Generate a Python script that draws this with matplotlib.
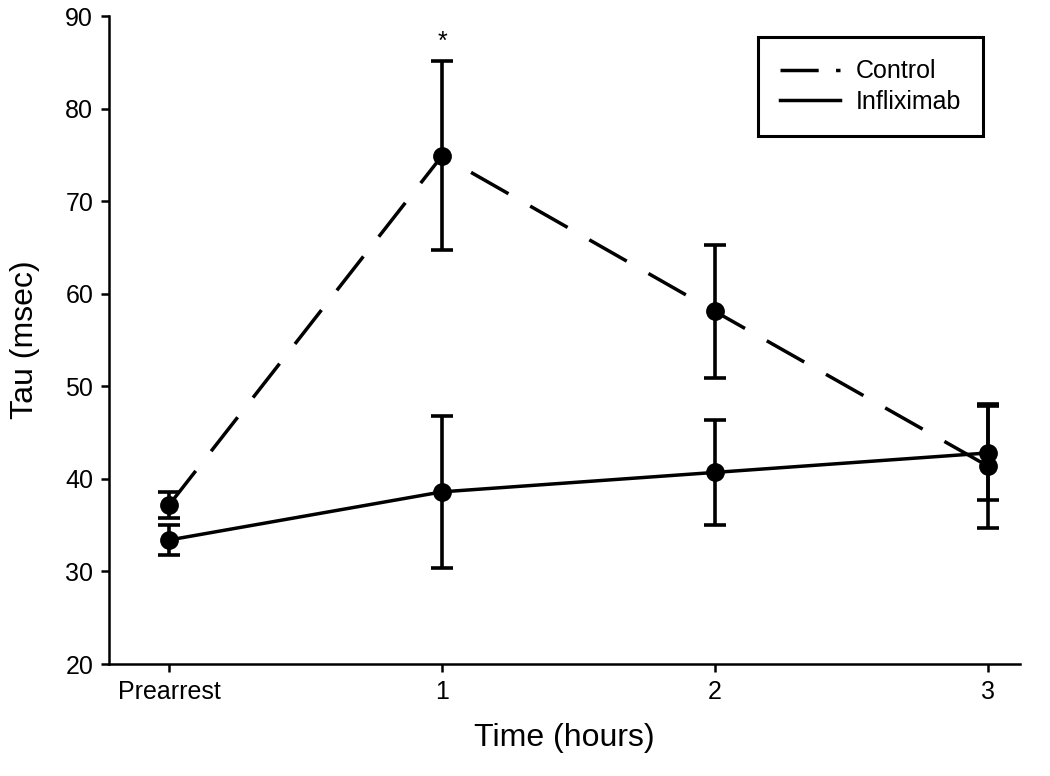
import numpy as np
import matplotlib.pyplot as plt

plt.rcParams['font.family'] = ['Liberation Sans', 'DejaVu Sans']

# data
time_labels = ['Prearrest', '1', '2', '3']
control_mean = [37.2, 74.9, 58.1, 41.4]
control_err = [1.4, 10.2, 7.2, 6.7]
inflix_mean = [33.4, 38.6, 40.7, 42.8]
inflix_err = [1.6, 8.2, 5.7, 5.1]

x = np.arange(len(time_labels))

fig = plt.figure(figsize=(10.5, 7.76), dpi=100)
ax = fig.add_axes([0.104, 0.1443, 0.867, 0.835])

dash = (0, (12.4, 7.2))
ax.errorbar(x, control_mean, yerr=control_err, color='black', lw=2.5,
            linestyle=dash, marker='o', markersize=12.5,
            capsize=8, capthick=2.6, elinewidth=2.6, label='Control')
ax.errorbar(x, inflix_mean, yerr=inflix_err, color='black', lw=2.5,
            linestyle='-', marker='o', markersize=12.5,
            capsize=8, capthick=2.6, elinewidth=2.6, label='Infliximab')

# significance marker
ax.text(1, 87.2, '*', ha='center', va='center', fontsize=18)

ax.set_xlim(-0.22, 3.117)
ax.set_ylim(20, 90)
ax.set_xticks(x)
ax.set_xticklabels(time_labels)
ax.set_yticks(np.arange(20, 91, 10))
ax.tick_params(labelsize=18, width=1.8, length=5.5, direction='out', pad=6)
ax.spines['top'].set_visible(False)
ax.spines['right'].set_visible(False)
ax.spines['left'].set_linewidth(1.8)
ax.spines['bottom'].set_linewidth(1.8)

ax.set_xlabel('Time (hours)', fontsize=23, labelpad=14)
ax.set_ylabel('Tau (msec)', fontsize=23, labelpad=18)

handles = [plt.Line2D([], [], color='black', lw=2.5, linestyle=(0, (11, 5))),
           plt.Line2D([], [], color='black', lw=2.5, linestyle='-')]
leg = ax.legend(handles, ['Control', 'Infliximab'], loc='upper right',
                bbox_to_anchor=(0.960, 0.968), fontsize=18, fancybox=False,
                edgecolor='black', framealpha=1, handlelength=2.4,
                handletextpad=0.6, borderpad=0.9, borderaxespad=0,
                labelspacing=0.25)
leg.get_frame().set_linewidth(2.2)

fig.savefig('out.png', dpi=100)
